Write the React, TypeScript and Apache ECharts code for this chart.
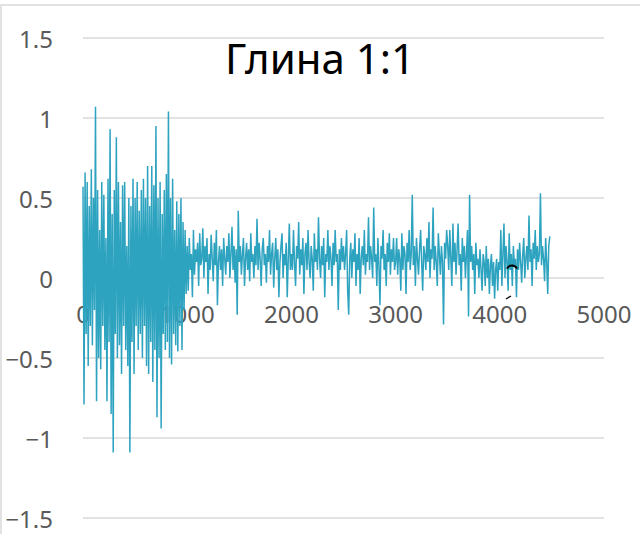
import React, { useEffect, useRef } from "react";
import * as echarts from "echarts";

const TITLE = "Глина 1:1";
const X_STEP = 10;
const X_TICKS = [0, 1000, 2000, 3000, 4000, 5000];
const Y_TICKS = [-1.5, -1, -0.5, 0, 0.5, 1, 1.5];

// values, one every 10 units of x
const y0000 = [0.57,-0.79,0.66,-0.35,0.6,-0.55,0.45,-0.3,0.68,-0.42,0.5,-0.2,1.07,-0.77,0.55,-0.5,0.3,-0.57,0.6,-0.3,0.52,-0.45,0.25,-0.77,0.62,-0.4,0.93,-0.85,0.4,-1.09,0.55,-0.35,0.88,-0.5,0.6,-0.42,0.35,-0.6,0.58,-0.3,0.6,-0.45,0.2,-0.55,0.5,-1.09,0.45,-0.4,0.62,-0.6];
const y0500 = [0.5,-0.3,0.6,-0.45,0.42,-0.35,0.55,-0.5,0.62,-0.3,0.5,-0.55,0.7,-0.6,0.45,-0.4,0.7,-0.65,0.58,-0.45,0.95,-0.87,0.5,-0.5,0.6,-0.94,0.4,-0.35,0.55,-0.45,0.65,-0.4,1.04,-0.5,0.5,-0.54,0.62,-0.35,0.3,-0.42,0.48,-0.46,0.4,-0.3,0.5,-0.45,0.35,-0.2,0.3,-0.1];
const y1000 = [0.2,-0.08,0.25,0.05,0.15,-0.12,0.3,0.02,0.18,0.1,0.22,-0.05,0.28,0.08,0.12,0.31,0.0,0.2,0.1,0.25,-0.1,0.15,0.05,0.27,0.12,-0.02,0.22,0.08,0.3,-0.17,0.1,0.2,0.05,0.18,-0.05,0.25,0.12,0.02,0.2,0.1,0.28,0.0,0.15,0.32,0.05,0.2,-0.03,0.18,-0.23,0.42];
const y1500 = [0.1,0.2,0.02,0.15,0.25,-0.05,0.12,0.22,0.05,0.18,-0.02,0.28,0.1,0.15,0.0,0.2,0.08,0.37,0.05,0.22,0.12,-0.05,0.18,0.25,0.08,0.15,-0.03,0.2,0.1,0.3,0.02,0.15,0.22,-0.06,0.12,0.25,0.05,0.18,-0.12,0.1,0.2,0.28,0.0,0.15,0.08,0.22,-0.12,0.12,0.34,0.05];
const y2000 = [0.15,0.05,0.3,0.1,-0.05,0.2,0.12,0.35,0.02,0.18,0.08,0.25,-0.1,0.15,0.22,0.05,0.3,0.1,0.0,0.2,0.12,-0.08,0.28,0.1,0.18,0.05,0.38,0.12,0.0,0.2,0.08,0.25,-0.12,0.15,0.1,0.3,0.05,0.2,0.12,-0.05,0.22,0.08,0.3,0.1,0.15,-0.2,0.18,0.05,0.25,0.1];
const y2500 = [0.2,0.05,0.15,0.3,-0.08,-0.23,0.12,0.22,0.0,0.18,0.1,0.28,-0.05,0.15,0.05,0.25,-0.1,0.12,0.2,0.08,0.3,0.02,0.15,0.1,0.38,0.05,0.2,0.12,0.0,0.44,0.1,0.15,-0.05,0.25,0.08,-0.17,0.2,0.12,0.3,0.05,0.15,-0.05,0.22,0.1,0.28,0.02,0.18,0.1,0.25,0.05];
const y3000 = [0.1,0.25,0.02,0.18,0.12,-0.08,0.28,0.05,0.2,0.15,-0.1,0.22,0.1,0.3,0.05,0.15,0.52,0.08,0.2,-0.05,0.25,0.12,0.02,0.18,0.3,0.1,-0.08,0.2,0.15,0.05,0.25,0.1,0.35,0.0,0.18,0.12,0.44,0.05,0.2,0.1,-0.05,0.28,0.15,0.02,0.2,0.1,-0.29,0.22,0.12,0.3];
const y3500 = [0.2,0.05,0.3,0.12,-0.05,0.34,0.1,0.22,0.02,0.18,0.34,0.08,0.15,-0.08,0.25,0.1,0.2,0.0,0.15,0.3,-0.24,0.52,0.1,0.2,0.05,0.15,-0.1,0.22,0.08,0.12,0.0,0.18,0.05,-0.08,0.15,0.1,-0.05,0.2,0.0,0.12,-0.1,0.08,0.15,-0.05,0.1,-0.13,0.05,0.12,-0.08,0.1];
const y4000 = [0.05,0.3,-0.05,0.15,0.34,0.0,0.2,0.1,-0.08,0.28,0.05,0.15,-0.05,0.2,0.08,0.12,-0.12,0.18,0.05,0.22,0.1,-0.03,0.15,0.25,0.0,0.12,0.2,0.05,0.39,0.1,0.18,-0.05,0.22,0.12,0.3,0.05,0.2,0.1,0.15,0.53,0.08,0.2,0.12,-0.02,0.25,0.1,-0.1,0.2,0.26];

const SERIES_Y = [...y0000, ...y0500, ...y1000, ...y1500, ...y2000, ...y2500, ...y3000, ...y3500, ...y4000];

const GRID_TOP = 38;
const GRID_H = 480;

export default function App() {
  const ref = useRef<HTMLDivElement>(null);
  useEffect(() => {
    if (!ref.current) return;
    const chart = echarts.init(ref.current, null, { renderer: "svg" });
    const data = SERIES_Y.map((v, i) => [i * X_STEP, v]);
    const font = "'Noto Sans', 'Open Sans', sans-serif";
    const yMin = Y_TICKS[0];
    const yMax = Y_TICKS[Y_TICKS.length - 1];
    // distance from the grid bottom up to the zero line
    const zeroOffset = (GRID_H * (0 - yMin)) / (yMax - yMin);
    chart.setOption({
      animation: false,
      backgroundColor: "#ffffff",
      title: {
        text: TITLE,
        left: "center",
        top: 31,
        textStyle: { fontFamily: font, fontSize: 42, fontWeight: "normal", color: "#000000" },
      },
      graphic: [
        {
          type: "rect",
          shape: { x: 1, y: 5, width: 700, height: 600 },
          style: { fill: "none", stroke: "#d9d9d9", lineWidth: 1.5 },
          silent: true,
        },
        {
          type: "arc",
          shape: { cx: 512, cy: 271, r: 5.5, startAngle: Math.PI * 1.14, endAngle: Math.PI * 1.86 },
          style: { fill: "none", stroke: "#000000", lineWidth: 2 },
          z: 10,
          silent: true,
        },
        {
          type: "line",
          shape: { x1: 506, y1: 299, x2: 511, y2: 296 },
          style: { stroke: "#000000", lineWidth: 1.3 },
          z: 10,
          silent: true,
        },
      ],
      grid: {
        left: 83,
        right: 36,
        top: GRID_TOP,
        height: GRID_H,
        containLabel: false,
        outerBoundsMode: "none",
      },
      xAxis: {
        type: "value",
        min: X_TICKS[0],
        max: X_TICKS[X_TICKS.length - 1],
        interval: 1000,
        offset: -zeroOffset,
        axisLine: { show: false, onZero: false },
        axisTick: { show: false },
        splitLine: { show: false },
        axisLabel: {
          color: "#595959",
          fontSize: 24,
          fontFamily: font,
          margin: 23,
          formatter: (v: number) => String(v),
        },
      },
      yAxis: {
        type: "value",
        min: yMin,
        max: yMax,
        interval: 0.5,
        axisLine: { show: false },
        axisTick: { show: false },
        splitLine: { show: true, lineStyle: { color: "#d9d9d9", width: 1.5 } },
        axisLabel: {
          color: "#595959",
          fontSize: 24,
          fontFamily: font,
          margin: 30,
          formatter: (v: number) => (v < 0 ? "\u2212" + String(-v) : String(v)),
        },
      },
      series: [
        {
          type: "line",
          data,
          showSymbol: false,
          symbol: "none",
          lineStyle: { color: "#2ea3c0", width: 1.5 },
          z: 3,
        },
      ],
    });
    return () => chart.dispose();
  }, []);
  return (
    <div
      ref={ref}
      style={{ position: "fixed", left: 0, top: 0, width: 640, height: 534 }}
    />
  );
}
